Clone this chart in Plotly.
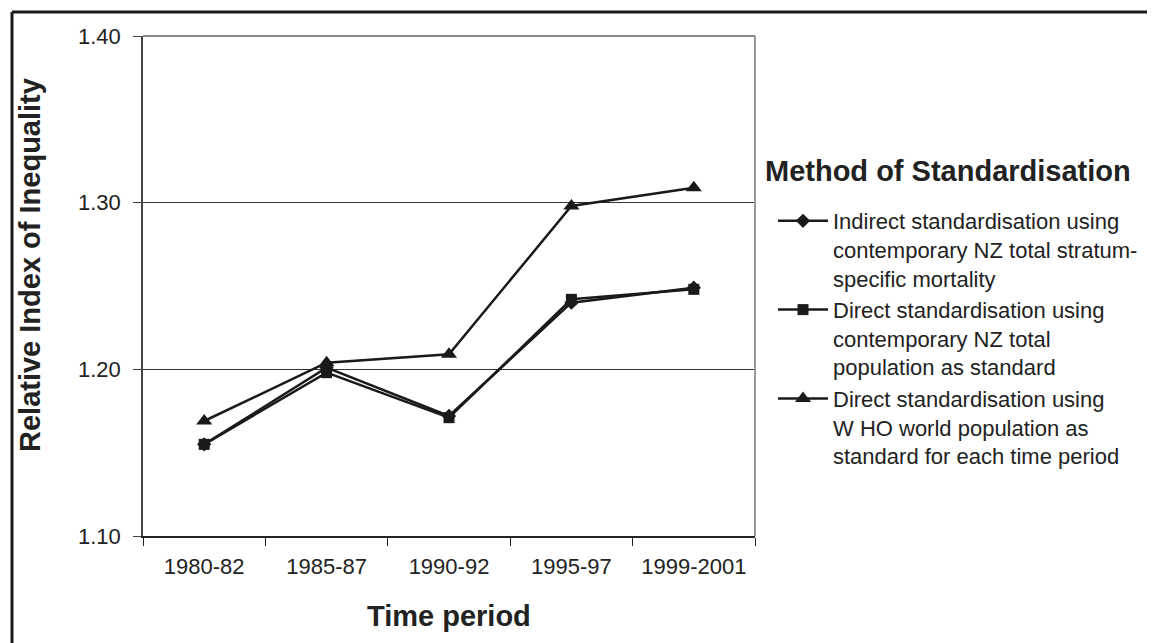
import plotly.graph_objects as go

periods = ["1980-82", "1985-87", "1990-92", "1995-97", "1999-2001"]
indirect_nz = [1.155, 1.201, 1.172, 1.240, 1.249]
direct_nz = [1.155, 1.198, 1.171, 1.242, 1.248]
direct_who = [1.169, 1.204, 1.209, 1.298, 1.309]
y_ticks = [1.10, 1.20, 1.30, 1.40]
y_ticktext = ["1.10", "1.20", "1.30", "1.40"]

names = [
    "Indirect standardisation using<br>contemporary NZ total stratum-<br>specific mortality",
    "Direct standardisation using<br>contemporary NZ total<br>population as standard",
    "Direct standardisation using<br>W HO world population as<br>standard for each time period",
]
symbols = ["diamond", "square", "triangle-up"]
sizes = [11, 11, 14]
series = [indirect_nz, direct_nz, direct_who]

FONT = "Liberation Sans, Arial, sans-serif"
fig = go.Figure()
for nm, ys, sym, sz in zip(names, series, symbols, sizes):
    fig.add_trace(go.Scatter(
        x=periods, y=ys, name=nm, mode="lines+markers",
        line=dict(color="#1a1a1a", width=2.5),
        marker=dict(symbol=sym, size=sz, color="#1a1a1a"),
    ))

# page offset (body margin) of 8 px
OFF = 8
W, H = 1155 - OFF, 643 - OFF
L, R, T, B = 143 - OFF, 755 - OFF, 36 - OFF, 536 - OFF
pw, ph = R - L, B - T

def px_x(p):  # p in page pixels
    return (p - OFF - L) / pw

def px_y(p):
    return (B - (p - OFF)) / ph

fig.update_layout(
    width=W, height=H,
    margin=dict(l=L, r=W - R, t=T, b=H - B, pad=0),
    paper_bgcolor="white", plot_bgcolor="white",
    font=dict(family=FONT, size=22, color="#222"),
    showlegend=True,
    legend=dict(
        x=px_x(773), y=px_y(200), xanchor="left", yanchor="top",
        font=dict(size=22, color="#222"), valign="top",
        itemwidth=50, bgcolor="rgba(0,0,0,0)",
    ),
    xaxis=dict(
        type="category", range=[-0.5, 4.5],
        showline=True, linecolor="#222", linewidth=1.5,
        ticks="outside", ticklen=8, tickcolor="#222", tickson="boundaries",
        showgrid=False, zeroline=False, mirror=False,
        tickfont=dict(size=22), ticklabelstandoff=10,
    ),
    yaxis=dict(
        range=[1.10, 1.40], tickvals=y_ticks, ticktext=y_ticktext,
        showline=True, linecolor="#444", linewidth=1.5,
        ticks="outside", ticklen=8, tickcolor="#444",
        showgrid=True, gridcolor="#333", gridwidth=1, zeroline=False,
        tickfont=dict(size=22), ticklabelstandoff=8,
    ),
    annotations=[
        dict(text="<b>Relative Index of Inequality</b>", xref="paper", yref="paper",
             x=px_x(30), y=px_y(265), xanchor="center", yanchor="middle",
             textangle=-90, showarrow=False, font=dict(size=29, color="#222")),
        dict(text="<b>Time period</b>", xref="paper", yref="paper",
             x=px_x(449), y=px_y(616), xanchor="center", yanchor="middle",
             showarrow=False, font=dict(size=29, color="#222")),
        dict(text="<b>Method of Standardisation</b>", xref="paper", yref="paper",
             x=px_x(763), y=px_y(171), xanchor="left", yanchor="middle",
             showarrow=False, font=dict(size=29, color="#222")),
    ],
    shapes=[
        dict(type="line", xref="paper", yref="paper", x0=0, x1=1, y0=1, y1=1,
             line=dict(color="#888", width=2)),
        dict(type="line", xref="paper", yref="paper", x0=1, x1=1, y0=0, y1=1,
             line=dict(color="#999", width=2)),
        dict(type="line", xref="paper", yref="paper", x0=px_x(12), x1=px_x(12),
             y0=px_y(700), y1=px_y(12), line=dict(color="#1a1a1a", width=3)),
        dict(type="line", xref="paper", yref="paper", x0=px_x(12), x1=px_x(1200),
             y0=px_y(12), y1=px_y(12), line=dict(color="#1a1a1a", width=3)),
    ],
)

fig.write_html("out.html")
